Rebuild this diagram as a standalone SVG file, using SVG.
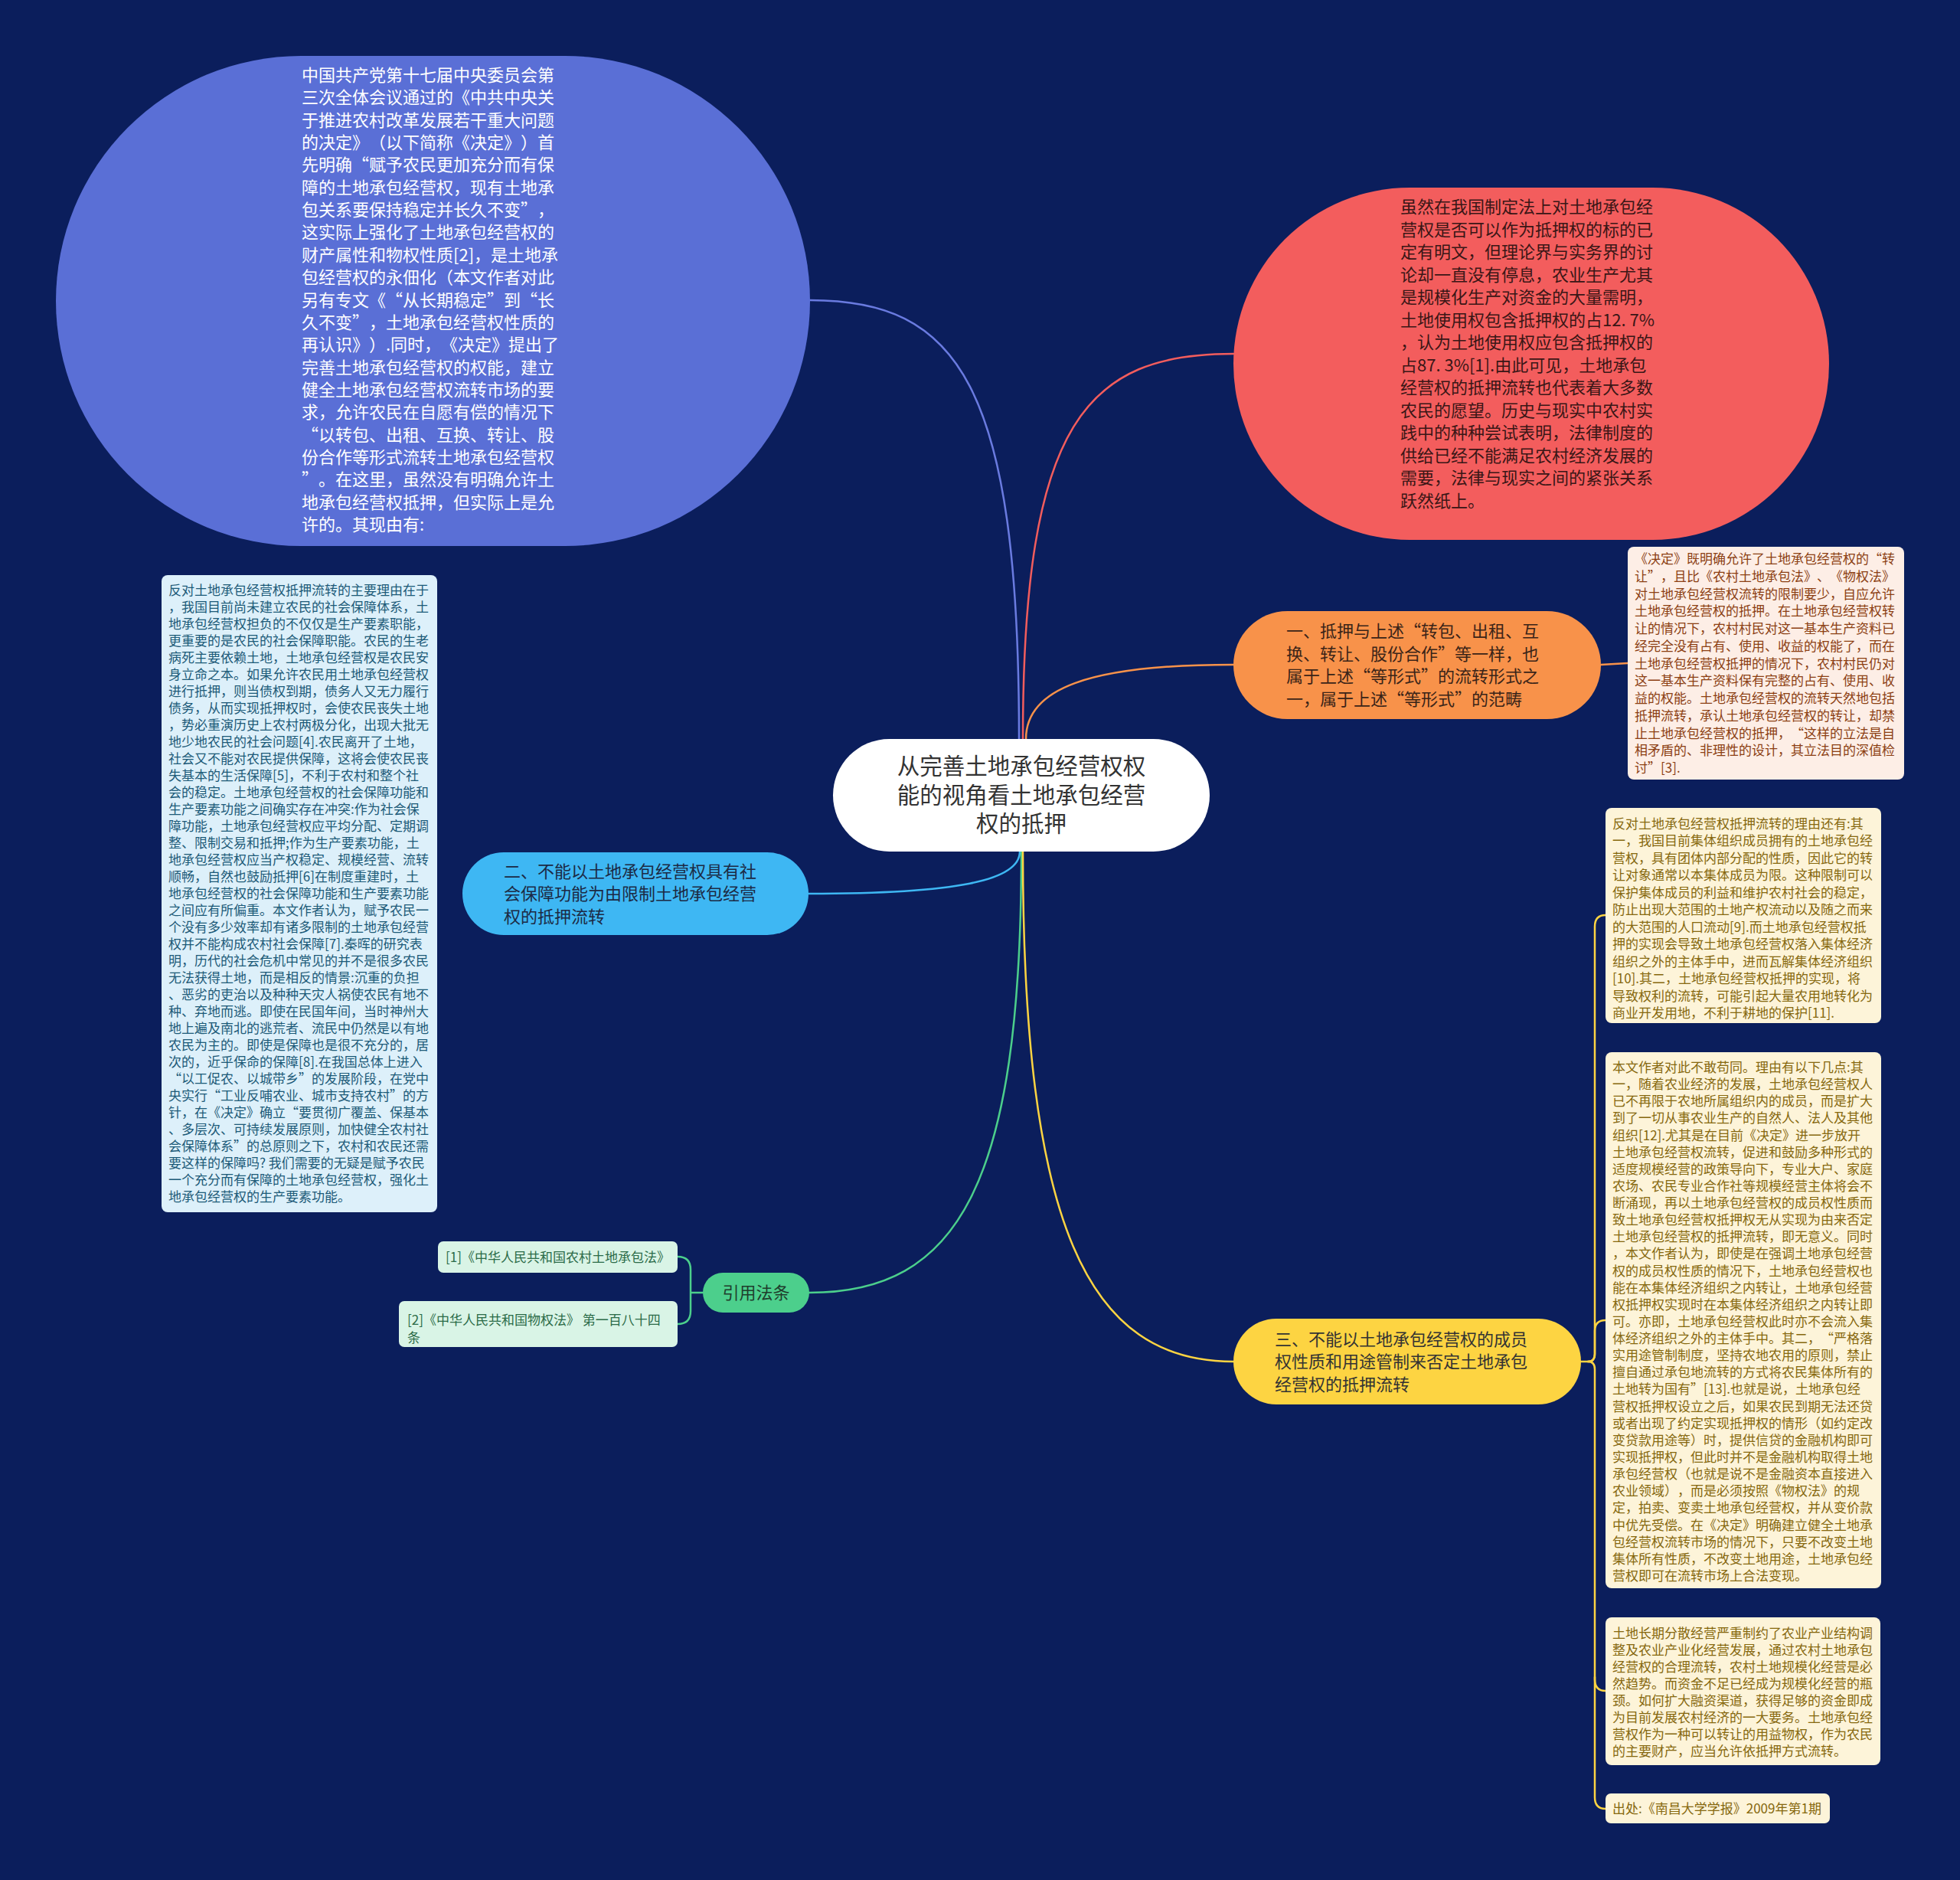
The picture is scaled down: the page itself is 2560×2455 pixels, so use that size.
<svg xmlns="http://www.w3.org/2000/svg" width="2560" height="2455" viewBox="0 0 2560 2455">
<style>
text{font-family:"Noto Sans CJK SC","Noto Sans",sans-serif;text-spacing-trim:space-all;}
.t22{font-size:22px;}
.t17{font-size:17px;}
.conn{fill:none;stroke-width:2.5;stroke-linecap:round;}
</style>
<rect x="0" y="0" width="2560" height="2455" fill="#0b1e5c"/>
<g id="connectors">
<path class="conn" stroke="#6a7be0" d="M1331 965 C1331 500 1250 392 1058 392"/>
<path class="conn" stroke="#f35d5d" d="M1336 965 C1336 550 1420 462 1611 462"/>
<path class="conn" stroke="#f8924a" d="M1340 965 C1340 900 1420 868 1611 868"/>
<path class="conn" stroke="#3eb7f3" d="M1332 1112 C1332 1150 1250 1167 1056 1167"/>
<path class="conn" stroke="#4ccf8c" d="M1334 1112 C1334 1550 1250 1688 1057 1688"/>
<path class="conn" stroke="#fdd442" d="M1336 1112 C1336 1600 1420 1778 1611 1778"/>
<path class="conn" stroke="#f8924a" d="M2091 868 L2126 866"/>
<path class="conn" stroke="#4ccf8c" d="M918 1688 H902 M885 1641 Q902 1641 902 1658 V1712 Q902 1729 885 1729"/>
<path class="conn" stroke="#fdd442" d="M2065 1778 H2074 Q2083 1778 2083 1768 V1210 Q2083 1195 2097 1195"/>
<path class="conn" stroke="#fdd442" d="M2074 1778 Q2083 1778 2083 1768 V1738 Q2083 1724 2097 1724"/>
<path class="conn" stroke="#fdd442" d="M2074 1778 Q2083 1778 2083 1788 V2193 Q2083 2208 2097 2208"/>
<path class="conn" stroke="#fdd442" d="M2083 2190 V2347 Q2083 2362 2097 2362"/>
</g>
<g id="center">
<rect x="1088" y="965" width="492" height="147" rx="73.5" fill="#ffffff"/>
<text x="1334" y="1011" font-size="29.5" fill="#333333" text-anchor="middle">从完善土地承包经营权权<tspan x="1334" dy="37.5">能的视角看土地承包经营</tspan><tspan x="1334" dy="37.5">权的抵押</tspan></text>
</g>
<g id="node-blue-ellipse">
<rect x="73" y="73" width="985" height="640" rx="320" fill="#5a6fd6"/>
<text class="t22" fill="#ffffff" x="394" y="106">中国共产党第十七届中央委员会第<tspan x="394" dy="29.35">三次全体会议通过的《中共中央关</tspan><tspan x="394" dy="29.35">于推进农村改革发展若干重大问题</tspan><tspan x="394" dy="29.35">的决定》（以下简称《决定》）首</tspan><tspan x="394" dy="29.35">先明确“赋予农民更加充分而有保</tspan><tspan x="394" dy="29.35">障的土地承包经营权，现有土地承</tspan><tspan x="394" dy="29.35">包关系要保持稳定并长久不变”，</tspan><tspan x="394" dy="29.35">这实际上强化了土地承包经营权的</tspan><tspan x="394" dy="29.35">财产属性和物权性质[2]，是土地承</tspan><tspan x="394" dy="29.35">包经营权的永佃化（本文作者对此</tspan><tspan x="394" dy="29.35">另有专文《“从长期稳定”到“长</tspan><tspan x="394" dy="29.35">久不变”，土地承包经营权性质的</tspan><tspan x="394" dy="29.35">再认识》）.同时，《决定》提出了</tspan><tspan x="394" dy="29.35">完善土地承包经营权的权能，建立</tspan><tspan x="394" dy="29.35">健全土地承包经营权流转市场的要</tspan><tspan x="394" dy="29.35">求，允许农民在自愿有偿的情况下</tspan><tspan x="394" dy="29.35">“以转包、出租、互换、转让、股</tspan><tspan x="394" dy="29.35">份合作等形式流转土地承包经营权</tspan><tspan x="394" dy="29.35">”。在这里，虽然没有明确允许土</tspan><tspan x="394" dy="29.35">地承包经营权抵押，但实际上是允</tspan><tspan x="394" dy="29.35">许的。其现由有:</tspan></text>
</g>
<g id="node-red-ellipse">
<rect x="1611" y="245" width="778" height="460" rx="230" fill="#f35d5d"/>
<text class="t22" fill="#3a1616" x="1829" y="278">虽然在我国制定法上对土地承包经<tspan x="1829" dy="29.5">营权是否可以作为抵押权的标的已</tspan><tspan x="1829" dy="29.5">定有明文，但理论界与实务界的讨</tspan><tspan x="1829" dy="29.5">论却一直没有停息，农业生产尤其</tspan><tspan x="1829" dy="29.5">是规模化生产对资金的大量需明，</tspan><tspan x="1829" dy="29.5">土地使用权包含抵押权的占12. 7%</tspan><tspan x="1829" dy="29.5">，认为土地使用权应包含抵押权的</tspan><tspan x="1829" dy="29.5">占87. 3%[1].由此可见，土地承包</tspan><tspan x="1829" dy="29.5">经营权的抵押流转也代表着大多数</tspan><tspan x="1829" dy="29.5">农民的愿望。历史与现实中农村实</tspan><tspan x="1829" dy="29.5">践中的种种尝试表明，法律制度的</tspan><tspan x="1829" dy="29.5">供给已经不能满足农村经济发展的</tspan><tspan x="1829" dy="29.5">需要，法律与现实之间的紧张关系</tspan><tspan x="1829" dy="29.5">跃然纸上。</tspan></text>
</g>
<g id="node-orange">
<rect x="1611" y="798" width="480" height="141" rx="70.5" fill="#f8924a"/>
<text class="t22" fill="#3a2418" x="1680" y="832">一、抵押与上述“转包、出租、互<tspan x="1680" dy="29.5">换、转让、股份合作”等一样，也</tspan><tspan x="1680" dy="29.5">属于上述“等形式”的流转形式之</tspan><tspan x="1680" dy="29.5">一，属于上述“等形式”的范畴</tspan></text>
</g>
<g id="note-orange">
<rect x="2126" y="714" width="361" height="304" rx="8" fill="#fdeee6"/>
<text class="t17" fill="#8c3f13" x="2135" y="736">《决定》既明确允许了土地承包经营权的“转<tspan x="2135" dy="22.75">让”，且比《农村土地承包法》、《物权法》</tspan><tspan x="2135" dy="22.75">对土地承包经营权流转的限制要少，自应允许</tspan><tspan x="2135" dy="22.75">土地承包经营权的抵押。在土地承包经营权转</tspan><tspan x="2135" dy="22.75">让的情况下，农村村民对这一基本生产资料已</tspan><tspan x="2135" dy="22.75">经完全没有占有、使用、收益的权能了，而在</tspan><tspan x="2135" dy="22.75">土地承包经营权抵押的情况下，农村村民仍对</tspan><tspan x="2135" dy="22.75">这一基本生产资料保有完整的占有、使用、收</tspan><tspan x="2135" dy="22.75">益的权能。土地承包经营权的流转天然地包括</tspan><tspan x="2135" dy="22.75">抵押流转，承认土地承包经营权的转让，却禁</tspan><tspan x="2135" dy="22.75">止土地承包经营权的抵押，“这样的立法是自</tspan><tspan x="2135" dy="22.75">相矛盾的、非理性的设计，其立法目的深值检</tspan><tspan x="2135" dy="22.75">讨”[3].</tspan></text>
</g>
<g id="node-sky">
<rect x="604" y="1113" width="452" height="108" rx="54" fill="#3eb7f3"/>
<text class="t22" fill="#1c2a44" x="658" y="1145.5">二、不能以土地承包经营权具有社<tspan x="658" dy="29.5">会保障功能为由限制土地承包经营</tspan><tspan x="658" dy="29.5">权的抵押流转</tspan></text>
</g>
<g id="note-sky">
<rect x="211" y="751" width="360" height="832" rx="8" fill="#ddf0fa"/>
<text class="t17" fill="#1c5a78" x="220" y="777">反对土地承包经营权抵押流转的主要理由在于<tspan x="220" dy="22">，我国目前尚未建立农民的社会保障体系，土</tspan><tspan x="220" dy="22">地承包经营权担负的不仅仅是生产要素职能，</tspan><tspan x="220" dy="22">更重要的是农民的社会保障职能。农民的生老</tspan><tspan x="220" dy="22">病死主要依赖土地，土地承包经营权是农民安</tspan><tspan x="220" dy="22">身立命之本。如果允许农民用土地承包经营权</tspan><tspan x="220" dy="22">进行抵押，则当债权到期，债务人又无力履行</tspan><tspan x="220" dy="22">债务，从而实现抵押权时，会使农民丧失土地</tspan><tspan x="220" dy="22">，势必重演历史上农村两极分化，出现大批无</tspan><tspan x="220" dy="22">地少地农民的社会问题[4].农民离开了土地，</tspan><tspan x="220" dy="22">社会又不能对农民提供保障，这将会使农民丧</tspan><tspan x="220" dy="22">失基本的生活保障[5]，不利于农村和整个社</tspan><tspan x="220" dy="22">会的稳定。土地承包经营权的社会保障功能和</tspan><tspan x="220" dy="22">生产要素功能之间确实存在冲突:作为社会保</tspan><tspan x="220" dy="22">障功能，土地承包经营权应平均分配、定期调</tspan><tspan x="220" dy="22">整、限制交易和抵押;作为生产要素功能，土</tspan><tspan x="220" dy="22">地承包经营权应当产权稳定、规模经营、流转</tspan><tspan x="220" dy="22">顺畅，自然也鼓励抵押[6]在制度重建时，土</tspan><tspan x="220" dy="22">地承包经营权的社会保障功能和生产要素功能</tspan><tspan x="220" dy="22">之间应有所偏重。本文作者认为，赋予农民一</tspan><tspan x="220" dy="22">个没有多少效率却有诸多限制的土地承包经营</tspan><tspan x="220" dy="22">权并不能构成农村社会保障[7].秦晖的研究表</tspan><tspan x="220" dy="22">明，历代的社会危机中常见的并不是很多农民</tspan><tspan x="220" dy="22">无法获得土地，而是相反的情景:沉重的负担</tspan><tspan x="220" dy="22">、恶劣的吏治以及种种天灾人祸使农民有地不</tspan><tspan x="220" dy="22">种、弃地而逃。即使在民国年间，当时神州大</tspan><tspan x="220" dy="22">地上遍及南北的逃荒者、流民中仍然是以有地</tspan><tspan x="220" dy="22">农民为主的。即使是保障也是很不充分的，居</tspan><tspan x="220" dy="22">次的，近乎保命的保障[8].在我国总体上进入</tspan><tspan x="220" dy="22">“以工促农、以城带乡”的发展阶段，在党中</tspan><tspan x="220" dy="22">央实行“工业反哺农业、城市支持农村”的方</tspan><tspan x="220" dy="22">针，在《决定》确立“要贯彻广覆盖、保基本</tspan><tspan x="220" dy="22">、多层次、可持续发展原则，加快健全农村社</tspan><tspan x="220" dy="22">会保障体系”的总原则之下，农村和农民还需</tspan><tspan x="220" dy="22">要这样的保障吗? 我们需要的无疑是赋予农民</tspan><tspan x="220" dy="22">一个充分而有保障的土地承包经营权，强化土</tspan><tspan x="220" dy="22">地承包经营权的生产要素功能。</tspan></text>
</g>
<g id="node-green">
<rect x="918" y="1662" width="139" height="52" rx="26" fill="#4ccf8c"/>
<text x="987.5" y="1696" font-size="22" fill="#1f3d2c" text-anchor="middle">引用法条</text>
</g>
<g id="ref-1">
<rect x="572" y="1621" width="313" height="41" rx="7" fill="#d9f4e6"/>
<text class="t17" fill="#2b6b48" x="582" y="1648">[1]《中华人民共和国农村土地承包法》</text>
</g>
<g id="ref-2">
<rect x="521" y="1699" width="364" height="60" rx="7" fill="#d9f4e6"/>
<text class="t17" fill="#2b6b48" x="532" y="1730">[2]《中华人民共和国物权法》 第一百八十四<tspan x="532" dy="23">条</tspan></text>
</g>
<g id="node-yellow">
<rect x="1611" y="1722" width="454" height="112" rx="56" fill="#fdd442"/>
<text class="t22" fill="#333333" x="1665" y="1756.5">三、不能以土地承包经营权的成员<tspan x="1665" dy="29.5">权性质和用途管制来否定土地承包</tspan><tspan x="1665" dy="29.5">经营权的抵押流转</tspan></text>
</g>
<g id="note-yellow-1">
<rect x="2097" y="1055" width="360" height="281" rx="8" fill="#fdf4d9"/>
<text class="t17" fill="#86680e" x="2106" y="1082">反对土地承包经营权抵押流转的理由还有:其<tspan x="2106" dy="22.45">一，我国目前集体组织成员拥有的土地承包经</tspan><tspan x="2106" dy="22.45">营权，具有团体内部分配的性质，因此它的转</tspan><tspan x="2106" dy="22.45">让对象通常以本集体成员为限。这种限制可以</tspan><tspan x="2106" dy="22.45">保护集体成员的利益和维护农村社会的稳定，</tspan><tspan x="2106" dy="22.45">防止出现大范围的土地产权流动以及随之而来</tspan><tspan x="2106" dy="22.45">的大范围的人口流动[9].而土地承包经营权抵</tspan><tspan x="2106" dy="22.45">押的实现会导致土地承包经营权落入集体经济</tspan><tspan x="2106" dy="22.45">组织之外的主体手中，进而瓦解集体经济组织</tspan><tspan x="2106" dy="22.45">[10].其二，土地承包经营权抵押的实现，将</tspan><tspan x="2106" dy="22.45">导致权利的流转，可能引起大量农用地转化为</tspan><tspan x="2106" dy="22.45">商业开发用地，不利于耕地的保护[11].</tspan></text>
</g>
<g id="note-yellow-2">
<rect x="2097" y="1374" width="360" height="700" rx="8" fill="#fdf4d9"/>
<text class="t17" fill="#86680e" x="2106" y="1400">本文作者对此不敢苟同。理由有以下几点:其<tspan x="2106" dy="22.13">一，随着农业经济的发展，土地承包经营权人</tspan><tspan x="2106" dy="22.13">已不再限于农地所属组织内的成员，而是扩大</tspan><tspan x="2106" dy="22.13">到了一切从事农业生产的自然人、法人及其他</tspan><tspan x="2106" dy="22.13">组织[12].尤其是在目前《决定》进一步放开</tspan><tspan x="2106" dy="22.13">土地承包经营权流转，促进和鼓励多种形式的</tspan><tspan x="2106" dy="22.13">适度规模经营的政策导向下，专业大户、家庭</tspan><tspan x="2106" dy="22.13">农场、农民专业合作社等规模经营主体将会不</tspan><tspan x="2106" dy="22.13">断涌现，再以土地承包经营权的成员权性质而</tspan><tspan x="2106" dy="22.13">致土地承包经营权抵押权无从实现为由来否定</tspan><tspan x="2106" dy="22.13">土地承包经营权的抵押流转，即无意义。同时</tspan><tspan x="2106" dy="22.13">，本文作者认为，即使是在强调土地承包经营</tspan><tspan x="2106" dy="22.13">权的成员权性质的情况下，土地承包经营权也</tspan><tspan x="2106" dy="22.13">能在本集体经济组织之内转让，土地承包经营</tspan><tspan x="2106" dy="22.13">权抵押权实现时在本集体经济组织之内转让即</tspan><tspan x="2106" dy="22.13">可。亦即，土地承包经营权此时亦不会流入集</tspan><tspan x="2106" dy="22.13">体经济组织之外的主体手中。其二，“严格落</tspan><tspan x="2106" dy="22.13">实用途管制制度，坚持农地农用的原则，禁止</tspan><tspan x="2106" dy="22.13">擅自通过承包地流转的方式将农民集体所有的</tspan><tspan x="2106" dy="22.13">土地转为国有”[13].也就是说，土地承包经</tspan><tspan x="2106" dy="22.13">营权抵押权设立之后，如果农民到期无法还贷</tspan><tspan x="2106" dy="22.13">或者出现了约定实现抵押权的情形（如约定改</tspan><tspan x="2106" dy="22.13">变贷款用途等）时，提供信贷的金融机构即可</tspan><tspan x="2106" dy="22.13">实现抵押权，但此时并不是金融机构取得土地</tspan><tspan x="2106" dy="22.13">承包经营权（也就是说不是金融资本直接进入</tspan><tspan x="2106" dy="22.13">农业领域），而是必须按照《物权法》的规</tspan><tspan x="2106" dy="22.13">定，拍卖、变卖土地承包经营权，并从变价款</tspan><tspan x="2106" dy="22.13">中优先受偿。在《决定》明确建立健全土地承</tspan><tspan x="2106" dy="22.13">包经营权流转市场的情况下，只要不改变土地</tspan><tspan x="2106" dy="22.13">集体所有性质，不改变土地用途，土地承包经</tspan><tspan x="2106" dy="22.13">营权即可在流转市场上合法变现。</tspan></text>
</g>
<g id="note-yellow-3">
<rect x="2097" y="2112" width="359" height="193" rx="8" fill="#fdf4d9"/>
<text class="t17" fill="#86680e" x="2106" y="2139">土地长期分散经营严重制约了农业产业结构调<tspan x="2106" dy="22">整及农业产业化经营发展，通过农村土地承包</tspan><tspan x="2106" dy="22">经营权的合理流转，农村土地规模化经营是必</tspan><tspan x="2106" dy="22">然趋势。而资金不足已经成为规模化经营的瓶</tspan><tspan x="2106" dy="22">颈。如何扩大融资渠道，获得足够的资金即成</tspan><tspan x="2106" dy="22">为目前发展农村经济的一大要务。土地承包经</tspan><tspan x="2106" dy="22">营权作为一种可以转让的用益物权，作为农民</tspan><tspan x="2106" dy="22">的主要财产，应当允许依抵押方式流转。</tspan></text>
</g>
<g id="note-yellow-4">
<rect x="2097" y="2342" width="293" height="39" rx="7" fill="#fdf4d9"/>
<text class="t17" fill="#86680e" x="2106" y="2368">出处:《南昌大学学报》2009年第1期</text>
</g>
</svg>
